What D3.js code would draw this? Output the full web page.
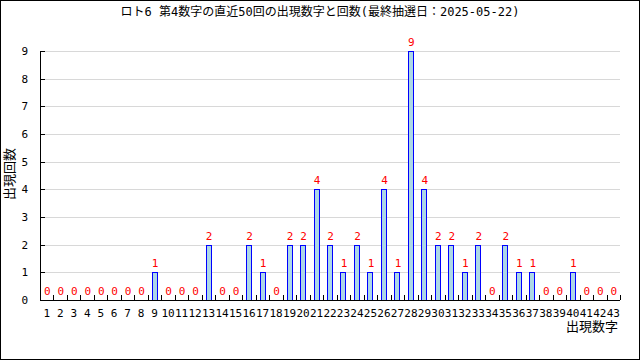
<!DOCTYPE html>
<html>
<head>
<meta charset="utf-8">
<script src="https://cdn.jsdelivr.net/npm/d3@7"></script>
<style>
  body { margin: 0; background: #fff; }
  svg text { font-family: "DejaVu Sans Mono", "Noto Sans CJK JP", monospace; }
  svg line, svg rect { shape-rendering: crispEdges; }
</style>
</head>
<body>
<script>
const title = "ロト6 第4数字の直近50回の出現数字と回数(最終抽選日：2025-05-22)";
const numbers = d3.range(1, 44);
const counts = [0,0,0,0,0,0,0,0,1,0, 0,0,2,0,0,2,1,0,2,2, 4,2,1,2,1,4,1,9,4,2, 2,1,2,0,2,1,1,0,0,1, 0,0,0];
const yTicks = d3.range(0, 10);

const width = 640, height = 360;
const margin = { left: 40, right: 20, top: 51, bottom: 60 };

const svg = d3.select('body').append('svg')
  .attr('width', width)
  .attr('height', height);

svg.append('rect')
  .attr('x', 0.5).attr('y', 0.5)
  .attr('width', width - 1).attr('height', height - 1)
  .attr('fill', '#fff').attr('stroke', '#000');

const x = d3.scaleBand()
  .domain(numbers)
  .range([margin.left, width - margin.right]);

const y = d3.scaleLinear()
  .domain([0, 9])
  .range([height - margin.bottom, margin.top]);

// grid
svg.append('g')
  .selectAll('line')
  .data(yTicks.filter(d => d > 0))
  .enter().append('line')
    .attr('x1', margin.left).attr('x2', width - margin.right)
    .attr('y1', d => Math.round(y(d)) + 0.5).attr('y2', d => Math.round(y(d)) + 0.5)
    .attr('stroke', '#d8d8d8');

// bars: blue outer box with light blue inner fill
const bw = 6;
const barData = counts.map((c, i) => ({ n: numbers[i], c })).filter(d => d.c > 0);
const bx = d => Math.round(x(d.n) + x.bandwidth() / 2 - bw / 2);
const by = d => Math.round(y(d.c));
const bars = svg.append('g');
bars.selectAll('.outer')
  .data(barData)
  .enter().append('rect')
    .attr('x', bx)
    .attr('y', by)
    .attr('width', bw)
    .attr('height', d => Math.round(y(0)) - by(d))
    .attr('fill', '#0000ff');
bars.selectAll('.inner')
  .data(barData)
  .enter().append('rect')
    .attr('x', d => bx(d) + 1)
    .attr('y', d => by(d) + 1)
    .attr('width', bw - 2)
    .attr('height', d => Math.round(y(0)) - by(d) - 1)
    .attr('fill', '#add8e6');

// value labels
svg.append('g')
  .selectAll('text')
  .data(counts.map((c, i) => ({ n: numbers[i], c })))
  .enter().append('text')
    .attr('x', d => x(d.n) + x.bandwidth() / 2 + 0.5)
    .attr('y', d => y(d.c) - 5)
    .attr('text-anchor', 'middle')
    .attr('font-size', 11)
    .attr('fill', '#ff0000')
    .text(d => d.c);

// axes lines
const axes = svg.append('g').attr('stroke', '#000').attr('fill', 'none');
axes.append('line')
  .attr('x1', margin.left + 0.5).attr('x2', margin.left + 0.5)
  .attr('y1', y(9)).attr('y2', y(0) + 0.5);
axes.append('line')
  .attr('x1', margin.left).attr('x2', width - margin.right)
  .attr('y1', Math.round(y(0)) + 0.5).attr('y2', Math.round(y(0)) + 0.5);

// y ticks (inward)
axes.selectAll('.yt')
  .data(yTicks)
  .enter().append('line')
    .attr('x1', margin.left).attr('x2', margin.left + 5)
    .attr('y1', d => Math.round(y(d)) + 0.5).attr('y2', d => Math.round(y(d)) + 0.5);

// x ticks at band boundaries (inward)
axes.selectAll('.xt')
  .data(numbers.slice(1).concat([44]))
  .enter().append('line')
    .attr('x1', d => Math.round(d === 44 ? width - margin.right : x(d)) + 0.5)
    .attr('x2', d => Math.round(d === 44 ? width - margin.right : x(d)) + 0.5)
    .attr('y1', Math.round(y(0))).attr('y2', Math.round(y(0)) - 5);

// y tick labels
svg.append('g')
  .selectAll('text')
  .data(yTicks)
  .enter().append('text')
    .attr('x', 28)
    .attr('y', d => y(d) + 4)
    .attr('text-anchor', 'end')
    .attr('font-size', 11)
    .text(d => d);

// x tick labels
svg.append('g')
  .selectAll('text')
  .data(numbers)
  .enter().append('text')
    .attr('x', d => x(d) + x.bandwidth() / 2)
    .attr('y', 317)
    .attr('text-anchor', 'middle')
    .attr('font-size', 11)
    .text(d => d);

// titles
svg.append('text')
  .attr('x', 320).attr('y', 16)
  .attr('text-anchor', 'middle')
  .attr('font-size', 12)
  .text(title);

svg.append('text')
  .attr('x', 618).attr('y', 331)
  .attr('text-anchor', 'end')
  .attr('font-size', 13)
  .text('出現数字');

svg.append('text')
  .attr('transform', 'translate(14,174) rotate(-90)')
  .attr('text-anchor', 'middle')
  .attr('font-size', 13)
  .text('出現回数');
</script>
</body>
</html>
